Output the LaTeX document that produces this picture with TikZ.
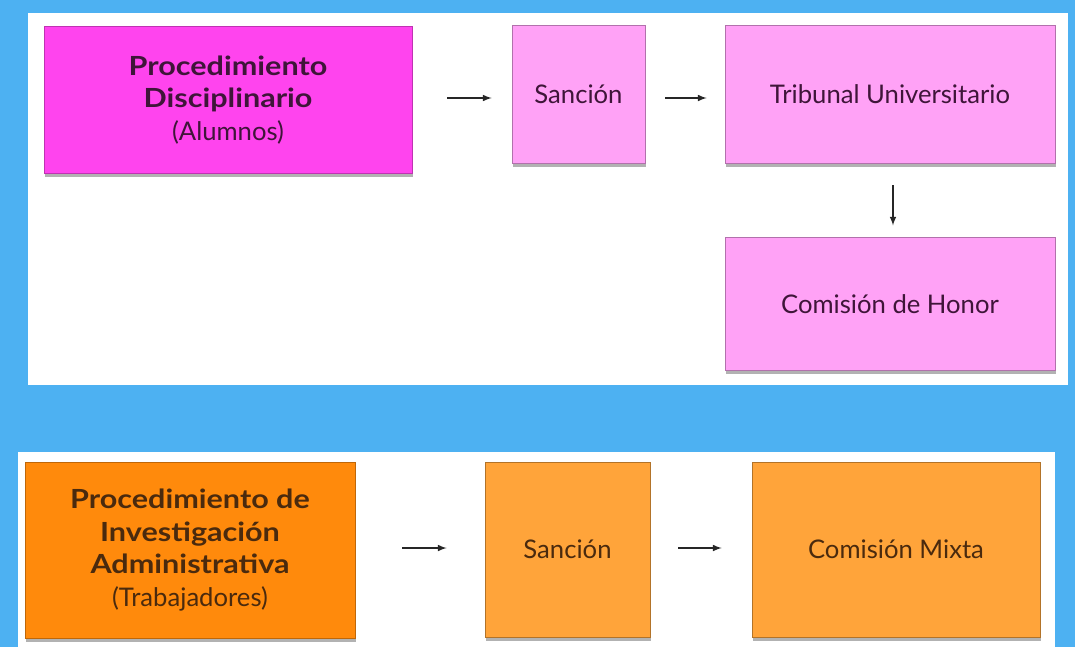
\documentclass[tikz,border=0pt]{standalone}
\usepackage{fontspec}
\setmainfont{Lato}
\newfontfamily\headfont[FakeStretch=1.16]{Lato}
\usepackage{tikz}
\usetikzlibrary{arrows, positioning, calc, shadows}
\definecolor{bgblue}{HTML}{4DB1F2}
\definecolor{disc_dark}{HTML}{FF44EE}
\definecolor{disc_light}{HTML}{FFA2F6}
\definecolor{disc_text}{HTML}{3F1539}
\definecolor{inv_dark}{HTML}{FF8A0C}
\definecolor{inv_light}{HTML}{FFA43A}
\definecolor{inv_text}{HTML}{4A2A0E}
\newcommand{\boxhead}[1]{{\headfont\bfseries\fontsize{15}{18.7}\selectfont #1}}
\tikzset{
  panel/.style={fill=white,draw=none},
  box/.style={rectangle,align=center,inner sep=.1cm,line width=.5pt,
    font=\fontsize{14.6}{18.7}\selectfont,
    drop shadow={shadow xshift=.4pt,shadow yshift=-2pt,opacity=.6}},
  discmain/.style={box,draw=disc_dark!75!black,fill=disc_dark,text=disc_text},
  discstep/.style={box,draw=disc_light!70!black,fill=disc_light,text=disc_text},
  invmain/.style={box,draw=inv_dark!75!black,fill=inv_dark,text=inv_text},
  invstep/.style={box,draw=inv_light!70!black,fill=inv_light,text=inv_text},
  flow/.style={line width=.7pt,-latex,black!85},
}
\begin{document}
\begin{tikzpicture}[x=0.02cm,y=-0.02cm]
  \useasboundingbox (0,0) rectangle (1075,647);
  \fill[bgblue] (0,0) rectangle (1075,647);
  \fill[panel] (28,13) rectangle (1068,385);
  \fill[panel] (18,452) rectangle (1055,647);
  % alumnos
  \node[discmain,minimum width=7.36cm,minimum height=2.94cm] (P1) at (228,100)
    {\boxhead{Procedimiento}\\\boxhead{Disciplinario}\\(Alumnos)};
  \node[discstep,minimum width=2.66cm,minimum height=2.76cm] (S1) at (578.5,94) {Sanción};
  \node[discstep,minimum width=6.6cm,minimum height=2.76cm] (T1) at (890,94) {Tribunal Universitario};
  \node[discstep,minimum width=6.6cm,minimum height=2.66cm,below=1.48cm of T1] (C1) {Comisión de Honor};
  \draw[flow] ($(P1.east)+(35,-2)$) -- ($(P1.east -| S1.west)+(-20,-2)$);
  \draw[flow] ($(S1.east)+(20,4)$) -- ($(T1.west)+(-18,4)$);
  \draw[flow] ($(T1.south)+(3,22)$) -- ($(C1.north)+(3,-12)$);
  % trabajadores
  \node[invmain,minimum width=6.6cm,minimum height=3.52cm] (P2) at (190,550)
    {\boxhead{Procedimiento de}\\\boxhead{Investigación}\\\boxhead{Administrativa}\\(Trabajadores)};
  \node[invstep,minimum width=3.3cm,minimum height=3.5cm] (S2) at (567.5,549.5) {Sanción};
  \node[invstep,minimum width=5.76cm,minimum height=3.5cm] (M2) at (896,549.5) {Comisión Mixta};
  \draw[flow] ($(P2.east)+(47,-2)$) -- ($(P2.east -| S2.west)+(-38,-2)$);
  \draw[flow] ($(S2.east)+(28,-1.5)$) -- ($(M2.west)+(-30,-1.5)$);
\end{tikzpicture}
\end{document}
